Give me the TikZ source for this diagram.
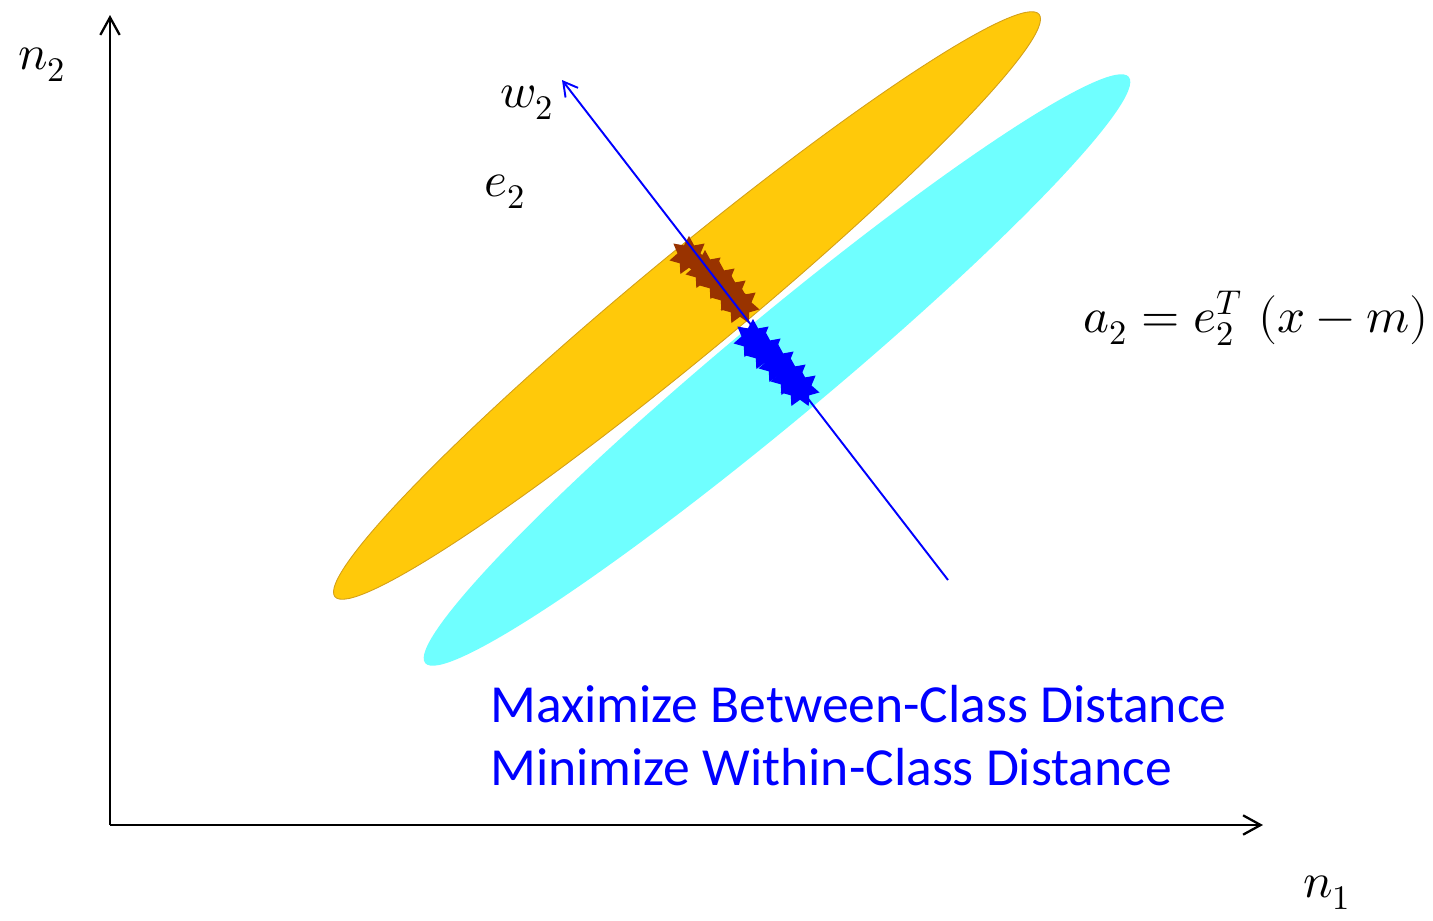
\documentclass[tikz,border=0pt]{standalone}
\usepackage{fontspec}
\usepackage{unicode-math}
\newfontfamily\calibri{Carlito}
\usetikzlibrary{arrows.meta,shapes.geometric}
\definecolor{classA}{HTML}{FFC90A}
\definecolor{classAedge}{HTML}{D4A017}
\definecolor{classB}{HTML}{6FFFFF}
\definecolor{projA}{HTML}{993300}
\definecolor{projB}{HTML}{0000FF}
\tikzset{
  mathlabel/.style={font=\fontsize{28}{33}\selectfont, inner sep=0pt},
  goal/.style={font=\calibri\fontsize{30.5}{36}\selectfont, text=projB, anchor=base west, inner sep=0pt},
  projstar/.style={star, star points=7, star point ratio=1.7, minimum size=0.8cm, inner sep=0pt, draw=none}
}

\begin{document}
\begin{tikzpicture}[x=0.02cm,y=-0.02cm]
\useasboundingbox (0,0) rectangle (1433,920);
% axes
\coordinate (origin) at (110,825);
\coordinate (n2tip) at (110,15);
\coordinate (n1tip) at (1263,825);
\draw[line width=1.3pt, -{Straight Barb[length=10pt,width=11pt]}] (origin) -- (n2tip);
\draw[line width=1.3pt, -{Straight Barb[length=10pt,width=11pt]}] (origin) -- (n1tip);
\node[mathlabel] (n2) at (42,65) {$n_2$};
\node[mathlabel] (n1) at (1327,893) {$n_1$};
% classes
\fill[classA, draw=classAedge, line width=0.5pt, rotate around={39.6:(687,305.5)}] (687,305.5) ellipse [x radius=9.14cm, y radius=1cm];
\fill[classB, rotate around={39.8:(777,370)}] (777,370) ellipse [x radius=9.16cm, y radius=1.02cm];
% projection direction
\coordinate (w2tail) at (948,580);
\coordinate (w2tip) at (562,80);
\foreach \x/\y [count=\i] in {689/256,705/270,719/281,730/293,740/305} {
  \node[projstar, fill=projA] (sa\i) at (\x,\y) {};
}
\foreach \x/\y [count=\i] in {753/339,765/351,778/364,790/377,800/388} {
  \node[projstar, fill=projB] (sb\i) at (\x,\y) {};
}
\draw[projB, line width=1.1pt, -{Straight Barb[length=8pt,width=9pt]}] (w2tail) -- (w2tip);
\node[mathlabel] (w2) at (527,103) {$w_2$};
\node[mathlabel] (e2) at (505,192) {$e_2$};
\node[mathlabel] (a2) at (1256,318) {$a_2 = e_2^T\,\,(x - m)$};
% goals
\node[goal] (maxtext) at (490,722) {Maximize Between-Class Distance};
\node[goal] (mintext) at (490,785) {Minimize Within-Class Distance};
\end{tikzpicture}
\end{document}
